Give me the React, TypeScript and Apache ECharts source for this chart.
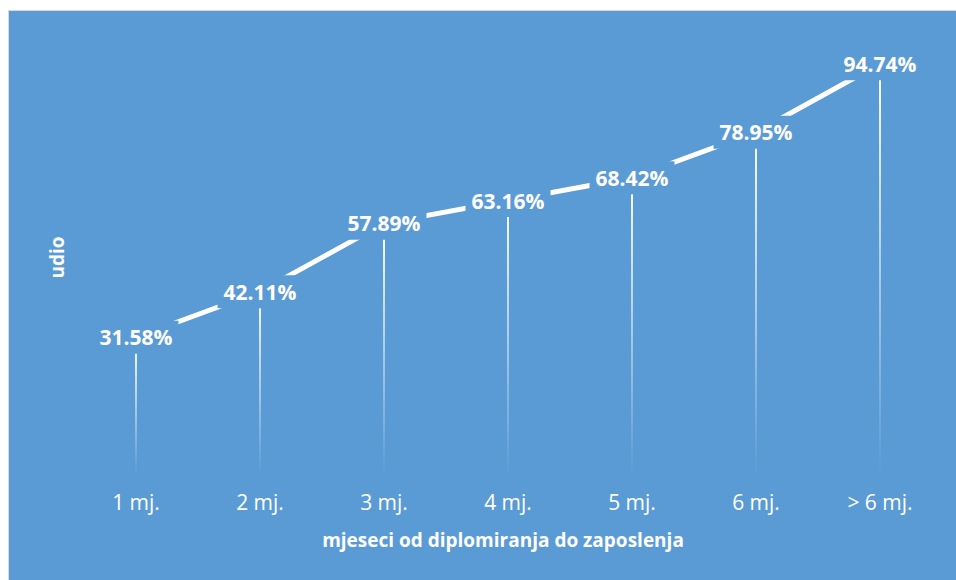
import React, { useEffect, useRef } from "react";
import * as echarts from "echarts";

const categories = ["1 mj.", "2 mj.", "3 mj.", "4 mj.", "5 mj.", "6 mj.", "> 6 mj."];
const values = [31.58, 42.11, 57.89, 63.16, 68.42, 78.95, 94.74];
const xTitle = "mjeseci od diplomiranja do zaposlenja";
const yTitle = "udio";

const BLUE = "#5B9BD5";
const FONT = "'Open Sans', sans-serif";

export default function App() {
  const ref = useRef<HTMLDivElement>(null);
  useEffect(() => {
    if (!ref.current) return;
    const chart = echarts.init(ref.current, undefined, { renderer: "svg" });
    chart.setOption({
      animation: false,
      backgroundColor: "transparent",
      grid: { left: 74, right: 14, top: 41, bottom: 106 },
      xAxis: {
        type: "category",
        data: categories,
        boundaryGap: true,
        axisLine: { show: false },
        axisTick: { show: false },
        splitLine: { show: false },
        axisLabel: { color: "#ffffff", fontSize: 21, fontFamily: FONT, margin: 17 },
        name: xTitle,
        nameLocation: "middle",
        nameGap: 56,
        nameTextStyle: {
          color: "#ffffff",
          fontSize: 19,
          fontWeight: "bold",
          fontFamily: FONT,
          padding: [0, 10, 0, 0],
        },
      },
      yAxis: {
        type: "value",
        min: 0,
        max: 100,
        axisLine: { show: false },
        axisTick: { show: false },
        axisLabel: { show: false },
        splitLine: { show: false },
        name: yTitle,
        nameLocation: "middle",
        nameRotate: 90,
        nameGap: 8,
        nameTextStyle: { color: "#ffffff", fontSize: 19, fontWeight: "bold", fontFamily: FONT },
      },
      series: [
        {
          type: "bar",
          data: values,
          barWidth: 2,
          silent: true,
          z: 1,
          itemStyle: {
            color: new echarts.graphic.LinearGradient(0, 0, 0, 1, [
              { offset: 0, color: "rgba(255,255,255,1)" },
              { offset: 1, color: "rgba(255,255,255,0)" },
            ]),
          },
        },
        {
          type: "line",
          data: values,
          symbol: "circle",
          symbolSize: 0,
          showSymbol: true,
          z: 3,
          itemStyle: { color: "#ffffff" },
          lineStyle: { color: "#ffffff", width: 5 },
          label: {
            show: true,
            position: "inside",
            formatter: (p: any) => p.value.toFixed(2) + "%",
            color: "#ffffff",
            fontSize: 21,
            fontWeight: "bold",
            fontFamily: FONT,
            backgroundColor: BLUE,
            padding: [6, 6],
          },
        },
      ],
    });
    return () => chart.dispose();
  }, []);

  return (
    <div style={{ position: "absolute", left: 0, top: 0, width: 956, height: 580, overflow: "hidden" }}>
      <div
        style={{
          position: "absolute",
          left: 8,
          top: 10,
          width: 948,
          height: 570,
          boxSizing: "border-box",
          background: BLUE,
          borderLeft: "1px solid #d9d9d9",
          borderTop: "1px solid #d9d9d9",
        }}
      />
      <div ref={ref} style={{ position: "absolute", left: 0, top: 0, width: 956, height: 580 }} />
    </div>
  );
}
